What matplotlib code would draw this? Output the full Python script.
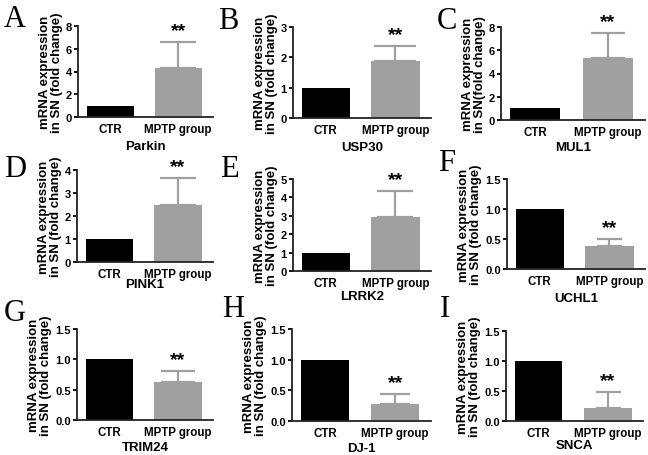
import matplotlib.pyplot as plt
import numpy as np

# Datos de cada panel
letters = ["A", "B", "C", "D", "E", "F", "G", "H", "I"]
genes = ["Parkin", "USP30", "MUL1", "PINK1", "LRRK2", "UCHL1", "TRIM24", "DJ-1", "SNCA"]
groups = ["CTR", "MPTP group"]
ctr_values = [1.0, 1.0, 1.0, 1.0, 1.0, 1.0, 1.0, 1.0, 1.0]
mptp_values = [4.3, 1.87, 5.35, 2.5, 2.95, 0.38, 0.63, 0.27, 0.22]
mptp_err = [2.3, 0.51, 2.15, 1.15, 1.4, 0.12, 0.18, 0.17, 0.26]
y_max = [8, 3, 8, 4, 5, 1.5, 1.5, 1.5, 1.5]
y_ticks = [
    [0, 2, 4, 6, 8],
    [0, 1, 2, 3],
    [0, 2, 4, 6, 8],
    [0, 1, 2, 3, 4],
    [0, 1, 2, 3, 4, 5],
    [0.0, 0.5, 1.0, 1.5],
    [0.0, 0.5, 1.0, 1.5],
    [0.0, 0.5, 1.0, 1.5],
    [0.0, 0.5, 1.0, 1.5],
]
y_labels = ["mRNA expression\nin SN (fold change)"] * 9
y_labels[2] = "mRNA expression\nin SN(fold change)"

W, H = 648, 456
# posiciones de los ejes en pixeles: (x0, y_top, x1, y_bottom)
boxes = [
    (78, 27, 213, 118), (293, 28, 431, 119), (501, 28, 645, 121),
    (77, 171, 213, 263), (293, 180, 431, 272), (507, 180, 645, 270),
    (77, 330, 213, 421), (292, 330, 431, 422), (506, 332, 643, 422),
]
xlabel_y = [147, 148, 148, 285, 297, 299, 448, 449, 446]
letter_pos = [(4, 27), (218, 29), (437, 29), (4, 177), (220, 177), (438, 171),
              (4, 321), (222, 317), (440, 317)]
cap_sizes = [13, 15, 12, 13, 13, 9, 12, 11, 9]

plt.rcParams['font.family'] = ['Liberation Sans', 'DejaVu Sans']
fig = plt.figure(figsize=(W / 100, H / 100), dpi=100)

gray = "#a0a0a0"
for i in range(9):
    x0, yt, x1, yb = boxes[i]
    ax = fig.add_axes([x0 / W, 1 - yb / H, (x1 - x0) / W, (yb - yt) / H])
    xs = np.arange(2)
    ax.bar(xs, [ctr_values[i], mptp_values[i]], width=0.69,
           color=["black", gray], linewidth=0, zorder=2)
    ax.errorbar(1, mptp_values[i], yerr=[[0], [mptp_err[i]]], fmt="none",
                ecolor=gray, elinewidth=1.6, capsize=cap_sizes[i],
                capthick=1.6, zorder=1)
    top = mptp_values[i] + mptp_err[i]
    ax.text(1, top + y_max[i] * 0.03, "**", ha="center", va="bottom",
            fontsize=14, fontweight="bold")
    ax.set_xlim(-0.47, 1.51)
    ax.set_ylim(0, y_max[i])
    ax.set_yticks(y_ticks[i])
    if y_max[i] == 1.5:
        ax.set_yticklabels([f"{t:.1f}" for t in y_ticks[i]])
    ax.set_xticks(xs)
    ax.set_xticklabels(groups, fontweight="bold", fontsize=8.3)
    for lab in ax.get_yticklabels():
        lab.set_fontweight("bold")
        lab.set_fontsize(8)
    ax.tick_params(axis="x", length=0, pad=4)
    ax.tick_params(axis="y", length=3, width=1.3, pad=1.5)
    for s in ["top", "right"]:
        ax.spines[s].set_visible(False)
    for s in ["left", "bottom"]:
        ax.spines[s].set_linewidth(1.3)
        ax.spines[s].set_color("#222222")
    ax.set_ylabel(y_labels[i], fontweight="bold", fontsize=9.5, labelpad=2,
                  linespacing=1.0)
    fig.text((x0 + x1) / 2 / W, 1 - xlabel_y[i] / H, genes[i], ha="center",
             va="center", fontsize=9.5, fontweight="bold")
    lx, ly = letter_pos[i]
    fig.text(lx / W, 1 - ly / H, letters[i], ha="left", va="baseline",
             fontsize=22, family="Liberation Serif")

fig.savefig("out.png", dpi=100)
